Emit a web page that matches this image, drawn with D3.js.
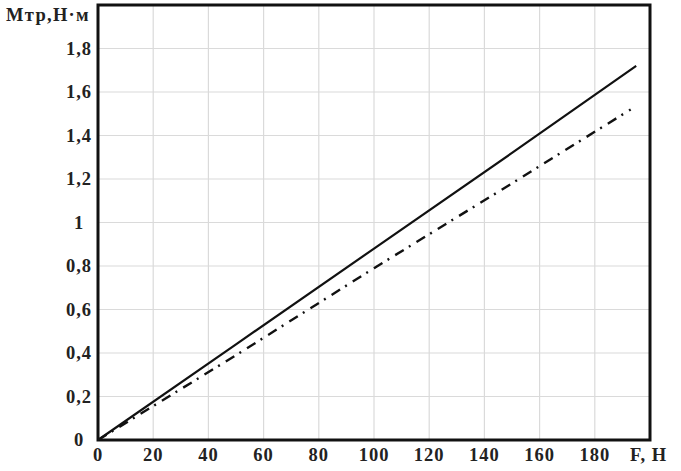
<!DOCTYPE html>
<html><head><meta charset="utf-8">
<script src="https://cdn.jsdelivr.net/npm/d3@7"></script>
<style>body{margin:0;background:#fff;}svg{display:block;}</style>
</head><body>
<svg id="c" width="681" height="471"></svg>
<script>
const xTicks = [0,20,40,60,80,100,120,140,160,180];
const yTicks = [0,0.2,0.4,0.6,0.8,1,1.2,1.4,1.6,1.8];
const yTickLabels = ["0","0,2","0,4","0,6","0,8","1","1,2","1,4","1,6","1,8"];
const forceSolid = [0,50,100,150,195];
const momentSolid = [0,0.44,0.88,1.32,1.72];
const forceDashed = [0,50,100,150,193];
const momentDashed = [0,0.39,0.79,1.18,1.52];
const yTitle = "Мтр,Н·м";
const xTitle = "F, Н";

const svg = d3.select("#c");
const L=98, R=650, T=5, B=440;
const x = d3.scaleLinear().domain([0,200]).range([L,R]);
const y = d3.scaleLinear().domain([0,2]).range([B,T]);
const font = "'Liberation Serif','Times New Roman',serif";

// grid
svg.append("g").selectAll("line.v").data(xTicks.filter(d=>d>0)).join("line")
  .attr("x1",d=>x(d)).attr("x2",d=>x(d)).attr("y1",T).attr("y2",B)
  .attr("stroke","#dadada").attr("stroke-width",1.2);
svg.append("g").selectAll("line.h").data(yTicks.filter(d=>d>0)).join("line")
  .attr("x1",L).attr("x2",R).attr("y1",d=>y(d)).attr("y2",d=>y(d))
  .attr("stroke","#dadada").attr("stroke-width",1.2);

// frame
svg.append("rect").attr("x",L).attr("y",T).attr("width",R-L).attr("height",B-T)
  .attr("fill","none").attr("stroke","#111").attr("stroke-width",3);

// lines
const line = d3.line().x(d=>x(d[0])).y(d=>y(d[1]));
svg.append("path").datum(forceSolid.map((f,i)=>[f,momentSolid[i]]))
  .attr("d",line).attr("fill","none").attr("stroke","#111").attr("stroke-width",2.2);
svg.append("path").datum(forceDashed.map((f,i)=>[f,momentDashed[i]]))
  .attr("d",line).attr("fill","none").attr("stroke","#111").attr("stroke-width",2.4)
  .attr("stroke-dasharray","10,6,2,7");

// x tick labels
svg.append("g").selectAll("text").data(xTicks).join("text")
  .attr("x",d=>x(d)).attr("y",461).attr("text-anchor","middle")
  .attr("font-family",font).attr("font-weight","bold").attr("font-size",18.5)
  .attr("letter-spacing",1).attr("fill","#222").text(d=>d);
// y tick labels
svg.append("g").selectAll("text").data(yTicks).join("text")
  .attr("x",79).attr("y",d=>y(d)).attr("dy","0.35em").attr("text-anchor","middle")
  .attr("font-family",font).attr("font-weight","bold").attr("font-size",18.5)
  .attr("letter-spacing",1).attr("fill","#222").text((d,i)=>yTickLabels[i]);

// axis titles
svg.append("text").attr("x",90).attr("y",21).attr("text-anchor","end")
  .attr("font-family",font).attr("font-weight","bold").attr("font-size",18.5)
  .attr("letter-spacing",1.3).attr("fill","#222").text(yTitle);
svg.append("text").attr("x",630).attr("y",461)
  .attr("font-family",font).attr("font-weight","bold").attr("font-size",18.5)
  .attr("letter-spacing",1).attr("fill","#222").text(xTitle);
</script>
</body></html>
